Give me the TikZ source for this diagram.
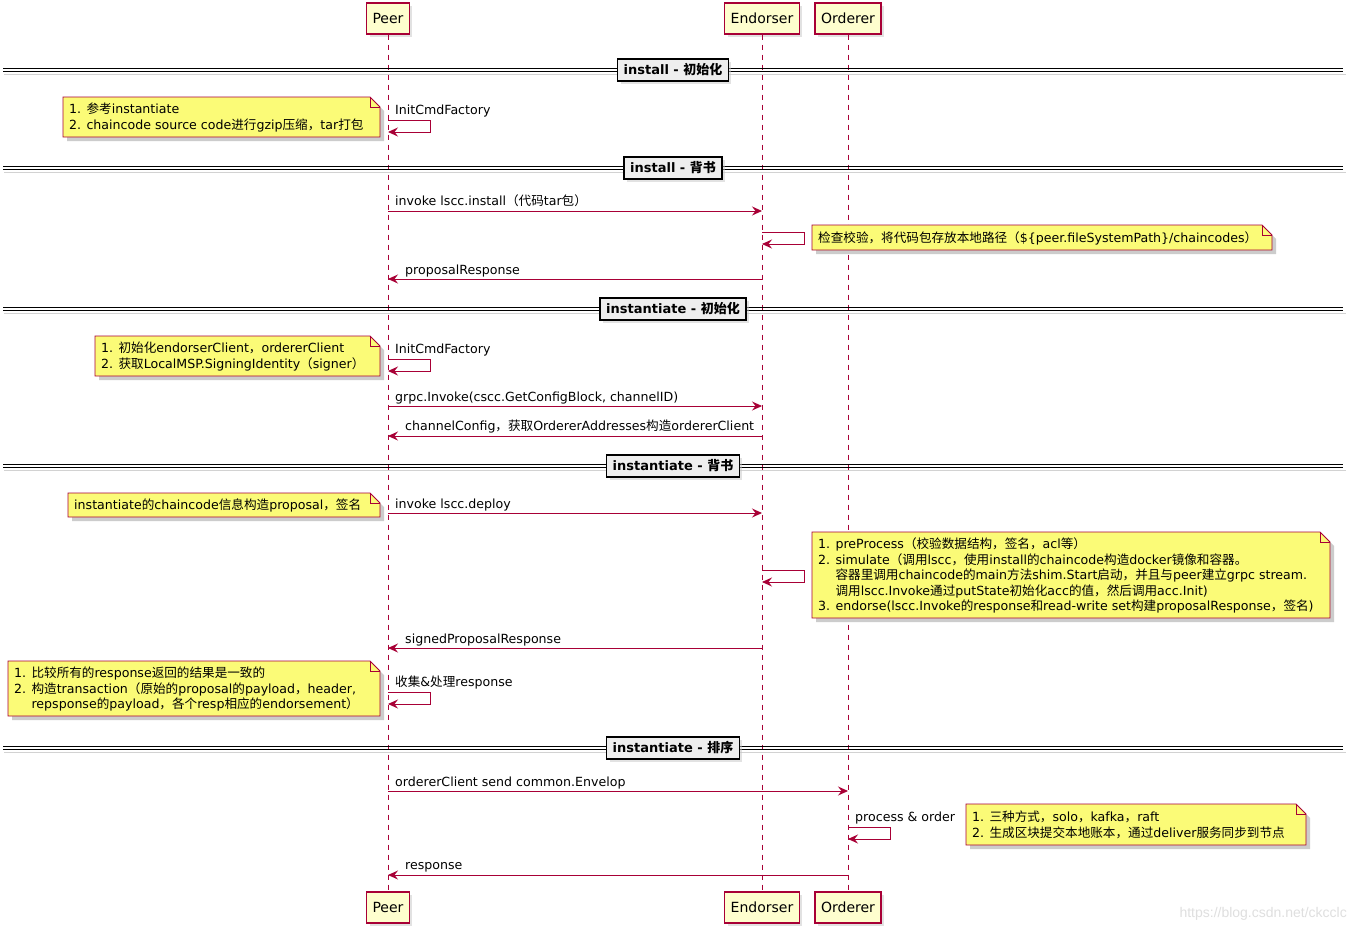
\documentclass[tikz,border=0pt]{standalone}
\usepackage{fontspec}
\setmainfont{DejaVu Sans}
\newfontfamily\cjkfont{Noto Sans CJK SC}
\newfontfamily\wmfont{Liberation Sans}
\newcommand\zh[1]{{\cjkfont #1}}
\usetikzlibrary{arrows.meta,shadows}
\definecolor{pu}{HTML}{A80036}
\definecolor{partfill}{HTML}{FEFECE}
\definecolor{notefill}{HTML}{FBFB77}
\definecolor{divfill}{HTML}{EEEEEE}
\tikzset{
  part/.style={draw=pu, line width=1.2pt, fill=partfill, minimum height=31pt, inner xsep=6pt,
    font=\fontsize{14}{16}\selectfont, drop shadow={shadow xshift=3pt, shadow yshift=-3pt, fill=gray!45}},
  life/.style={draw=pu, dash pattern=on 5pt off 5pt, line width=0.8pt},
  msg/.style={draw=pu, line width=0.9pt, -{Stealth[length=10pt,width=9pt,inset=3.5pt]}},
  lbl/.style={font=\fontsize{12.6}{14}\selectfont, anchor=base west, inner sep=0pt},
  divbox/.style={draw=black, line width=1.5pt, fill=divfill, minimum height=22pt, inner xsep=6pt,
    font=\bfseries\fontsize{13}{15}\selectfont, drop shadow={shadow xshift=3pt, shadow yshift=-3pt, fill=gray!45}},
  divline/.style={draw=black, line width=1.1pt},
  notebody/.style={draw=pu, line width=0.8pt, fill=notefill},
  notetext/.style={font=\fontsize{12.6}{15.5}\selectfont, align=left, inner sep=0pt, anchor=west},
}
\newcommand\mydiv[3]{% name, y, text
  \draw[gray!35, line width=1.2pt] (4,{#2+4.5}) -- (1346,{#2+4.5});
  \draw[divline] (3,{#2-1.6}) -- (1343,{#2-1.6});
  \draw[divline] (3,{#2+1.6}) -- (1343,{#2+1.6});
  \node[divbox] (#1) at (673,#2) {#3};
}
\newcommand\mynote[6]{% name, x1, y1, x2, y2, text
  \fill[gray!40] ({#2+4},{#3+4}) -- ({#4-6},{#3+4}) -- ({#4+4},{#3+14}) -- ({#4+4},{#5+4}) -- ({#2+4},{#5+4}) -- cycle;
  \draw[notebody] (#2,#3) -- ({#4-10},#3) -- (#4,{#3+10}) -- (#4,#5) -- (#2,#5) -- cycle;
  \draw[draw=pu, line width=0.8pt] ({#4-10},#3) -- ({#4-10},{#3+10}) -- (#4,{#3+10});
  \node[notetext] (#1) at ({#2+6},{(#3+#5)/2+0.5}) {#6};
}
\begin{document}
\begin{tikzpicture}[x=1pt,y=-1pt]
\useasboundingbox (0,0) rectangle (1355,932);
\fill[white] (0,0) rectangle (1355,932);

% participants
\node[part] (peerT) at (388,18.5) {Peer};
\node[part] (endT) at (762,18.5) {Endorser};
\node[part] (ordT) at (848,18.5) {Orderer};
\node[part] (peerB) at (388,907.5) {Peer};
\node[part] (endB) at (762,907.5) {Endorser};
\node[part] (ordB) at (848,907.5) {Orderer};
\draw[life] (peerT.south) -- (peerB.north);
\draw[life] (endT.south) -- (endB.north);
\draw[life] (ordT.south) -- (ordB.north);

% dividers
\mydiv{d1}{70}{install - \zh{初始化}}
\mydiv{d2}{168}{install - \zh{背书}}
\mydiv{d3}{309}{instantiate - \zh{初始化}}
\mydiv{d4}{466}{instantiate - \zh{背书}}
\mydiv{d5}{748}{instantiate - \zh{排序}}

% install - init
\coordinate (s1a) at (388,120); \coordinate (s1b) at (388,132);
\draw[msg] (s1a) -- ++(42,0) -- ++(0,12) -- (s1b);
\node[lbl] (l1) at (395,114.5) {InitCmdFactory};
\mynote{n1}{63}{97}{380}{137}{1. \zh{参考}instantiate\\2. chaincode source code\zh{进行}gzip\zh{压缩，}tar\zh{打包}}

% install - endorse
\coordinate (m2a) at (388,211); \coordinate (m2b) at (762,211);
\draw[msg] (m2a) -- (m2b);
\node[lbl] (l2) at (395,205.5) {invoke lscc.install\zh{（代码}tar\zh{包）}};
\coordinate (s3a) at (762,232); \coordinate (s3b) at (762,244);
\draw[msg] (s3a) -- ++(42,0) -- ++(0,12) -- (s3b);
\mynote{n2}{812}{225}{1272}{250}{\zh{检查校验，将代码包存放本地路径（}\$\{peer.fileSystemPath\}/chaincodes\zh{）}}
\coordinate (m4a) at (762,279); \coordinate (m4b) at (388,279);
\draw[msg] (m4a) -- (m4b);
\node[lbl] (l4) at (405,274.5) {proposalResponse};

% instantiate - init
\coordinate (s5a) at (388,359); \coordinate (s5b) at (388,371);
\draw[msg] (s5a) -- ++(42,0) -- ++(0,12) -- (s5b);
\node[lbl] (l5) at (395,353.5) {InitCmdFactory};
\mynote{n3}{95}{336}{380}{376}{1. \zh{初始化}endorserClient\zh{，}ordererClient\\2. \zh{获取}LocalMSP.SigningIdentity\zh{（}signer\zh{）}}
\coordinate (m6a) at (388,406); \coordinate (m6b) at (762,406);
\draw[msg] (m6a) -- (m6b);
\node[lbl] (l6) at (395,401.5) {grpc.Invoke(cscc.GetConfigBlock, channelID)};
\coordinate (m7a) at (762,436); \coordinate (m7b) at (388,436);
\draw[msg] (m7a) -- (m7b);
\node[lbl] (l7) at (405,430.5) {channelConfig\zh{，获取}OrdererAddresses\zh{构造}ordererClient};

% instantiate - endorse
\coordinate (m8a) at (388,513); \coordinate (m8b) at (762,513);
\draw[msg] (m8a) -- (m8b);
\node[lbl] (l8) at (395,508.5) {invoke lscc.deploy};
\mynote{n4}{68}{493}{380}{517}{instantiate\zh{的}chaincode\zh{信息构造}proposal\zh{，签名}}
\coordinate (s9a) at (762,570); \coordinate (s9b) at (762,582);
\draw[msg] (s9a) -- ++(42,0) -- ++(0,12) -- (s9b);
\mynote{n5}{812}{532}{1330}{618}{1. preProcess\zh{（校验数据结构，签名，}acl\zh{等）}\\
2. simulate\zh{（调用}lscc\zh{，使用}install\zh{的}chaincode\zh{构造}docker\zh{镜像和容器。}\\
\phantom{2. }\zh{容器里调用}chaincode\zh{的}main\zh{方法}shim.Start\zh{启动，并且与}peer\zh{建立}grpc stream.\\
\phantom{2. }\zh{调用}lscc.Invoke\zh{通过}putState\zh{初始化}acc\zh{的值，然后调用}acc.Init)\\
3. endorse(lscc.Invoke\zh{的}response\zh{和}read-write set\zh{构建}proposalResponse\zh{，签名}) }
\coordinate (m10a) at (762,648); \coordinate (m10b) at (388,648);
\draw[msg] (m10a) -- (m10b);
\node[lbl] (l10) at (405,643.5) {signedProposalResponse};
\coordinate (s11a) at (388,692); \coordinate (s11b) at (388,704);
\draw[msg] (s11a) -- ++(42,0) -- ++(0,12) -- (s11b);
\node[lbl] (l11) at (395,686.5) {\zh{收集}\&\zh{处理}response};
\mynote{n6}{8}{661}{380}{716}{1. \zh{比较所有的}response\zh{返回的结果是一致的}\\
2. \zh{构造}transaction\zh{（原始的}proposal\zh{的}payload\zh{，}header,\\
\phantom{2. }repsponse\zh{的}payload\zh{，各个}resp\zh{相应的}endorsement\zh{）}}

% instantiate - order
\coordinate (m12a) at (388,791); \coordinate (m12b) at (848,791);
\draw[msg] (m12a) -- (m12b);
\node[lbl] (l12) at (395,786.5) {ordererClient send common.Envelop};
\coordinate (s13a) at (848,827); \coordinate (s13b) at (848,839);
\draw[msg] (s13a) -- ++(42,0) -- ++(0,12) -- (s13b);
\node[lbl] (l13) at (855,821.5) {process \& order};
\mynote{n7}{966}{804}{1306}{845}{1. \zh{三种方式，}solo\zh{，}kafka\zh{，}raft\\2. \zh{生成区块提交本地账本，通过}deliver\zh{服务同步到节点}}
\coordinate (m14a) at (848,875); \coordinate (m14b) at (388,875);
\draw[msg] (m14a) -- (m14b);
\node[lbl] (l14) at (405,869.5) {response};

% watermark
\node[font=\wmfont\fontsize{14}{16}\selectfont, text=gray!25, anchor=east, inner sep=0pt] (wm) at (1347,914) {https://blog.csdn.net/ckcclc};
\end{tikzpicture}
\end{document}
